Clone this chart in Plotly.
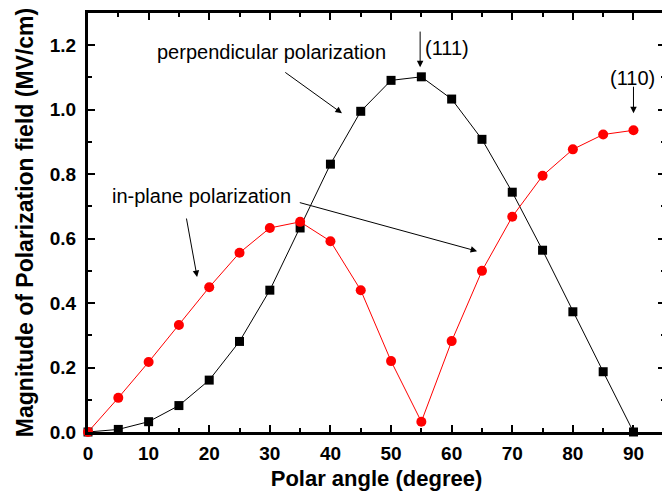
import plotly.graph_objects as go

angles = [0, 5, 10, 15, 20, 25, 30, 35, 40, 45, 50, 55, 60, 65, 70, 75, 80, 85, 90]
perpendicular = [0.0, 0.008, 0.032, 0.082, 0.161, 0.281, 0.44, 0.633, 0.831, 0.995, 1.091,
                 1.102, 1.033, 0.908, 0.744, 0.564, 0.373, 0.187, 0.0]
in_plane = [0.0, 0.106, 0.217, 0.332, 0.449, 0.556, 0.633, 0.652, 0.592, 0.44, 0.22,
            0.032, 0.282, 0.5, 0.668, 0.795, 0.877, 0.923, 0.936]

x_ticks = [0, 10, 20, 30, 40, 50, 60, 70, 80, 90]
y_ticks = [0.0, 0.2, 0.4, 0.6, 0.8, 1.0, 1.2]
y_tick_labels = ["0.0", "0.2", "0.4", "0.6", "0.8", "1.0", "1.2"]

FONT = "Liberation Sans, Arial"

fig = go.Figure()
fig.add_trace(go.Scatter(x=angles, y=perpendicular, mode="lines+markers",
                         line=dict(color="black", width=1),
                         marker=dict(symbol="square", size=9, color="black"),
                         cliponaxis=False, showlegend=False))
fig.add_trace(go.Scatter(x=angles, y=in_plane, mode="lines+markers",
                         line=dict(color="red", width=1),
                         marker=dict(symbol="circle", size=10, color="red"),
                         cliponaxis=False, showlegend=False))

axis_common = dict(showline=True, linecolor="black", linewidth=3, mirror="ticks",
                   ticks="inside", ticklen=7, tickwidth=2, tickcolor="black",
                   showgrid=False, zeroline=False, automargin=False,
                   tickfont=dict(family=FONT, size=19, color="black"))

fig.update_xaxes(range=[0, 95.2], tickvals=x_ticks, ticktext=["<b>%d</b>" % t for t in x_ticks],
                 ticklabelstandoff=2,
                 minor=dict(ticks="inside", ticklen=4, tickwidth=2, dtick=5, tick0=0, tickcolor="black"),
                 title=dict(text="<b>Polar angle (degree)</b>", standoff=8,
                            font=dict(family=FONT, size=22, color="black")),
                 **axis_common)
fig.update_yaxes(range=[0, 1.3], tickvals=y_ticks, ticktext=["<b>%s</b>" % t for t in y_tick_labels],
                 ticklabelstandoff=5,
                 minor=dict(ticks="inside", ticklen=4, tickwidth=2, dtick=0.1, tick0=0, tickcolor="black"),
                 title=dict(text="<b>Magnitude of Polarization field (MV/cm)</b>", standoff=10,
                            font=dict(family=FONT, size=23, color="black")),
                 **axis_common)

ann_font = dict(family=FONT, size=20, color="black")
texts = [
    ("perpendicular polarization", 30.2, 1.178),
    ("in-plane polarization", 18.8, 0.732),
    ("(111)", 59.3, 1.19),
    ("(110)", 89.8, 1.098),
]
for t, x, y in texts:
    fig.add_annotation(x=x, y=y, text=t, showarrow=False, font=ann_font, xref="x", yref="y")

arrows = [
    (32.3, 1.119, 41.9, 0.989),
    (16.2, 0.667, 18.0, 0.481),
    (34.7, 0.713, 64.2, 0.561),
    (54.8, 1.247, 54.8, 1.132),
    (90.0, 1.076, 90.0, 0.989),
]
for ax, ay, x, y in arrows:
    fig.add_annotation(x=x, y=y, ax=ax, ay=ay, xref="x", yref="y", axref="x", ayref="y",
                       text="", showarrow=True, arrowhead=2, arrowsize=1.3, arrowwidth=1,
                       arrowcolor="black", standoff=0, startstandoff=0)

# page body has an 8px margin, so the figure is sized/offset to compensate
fig.update_layout(width=662, height=483, margin=dict(l=80, r=5, t=5, b=59),
                  plot_bgcolor="white", paper_bgcolor="white",
                  font=dict(family=FONT, color="black"))

fig.write_html("out.html")
